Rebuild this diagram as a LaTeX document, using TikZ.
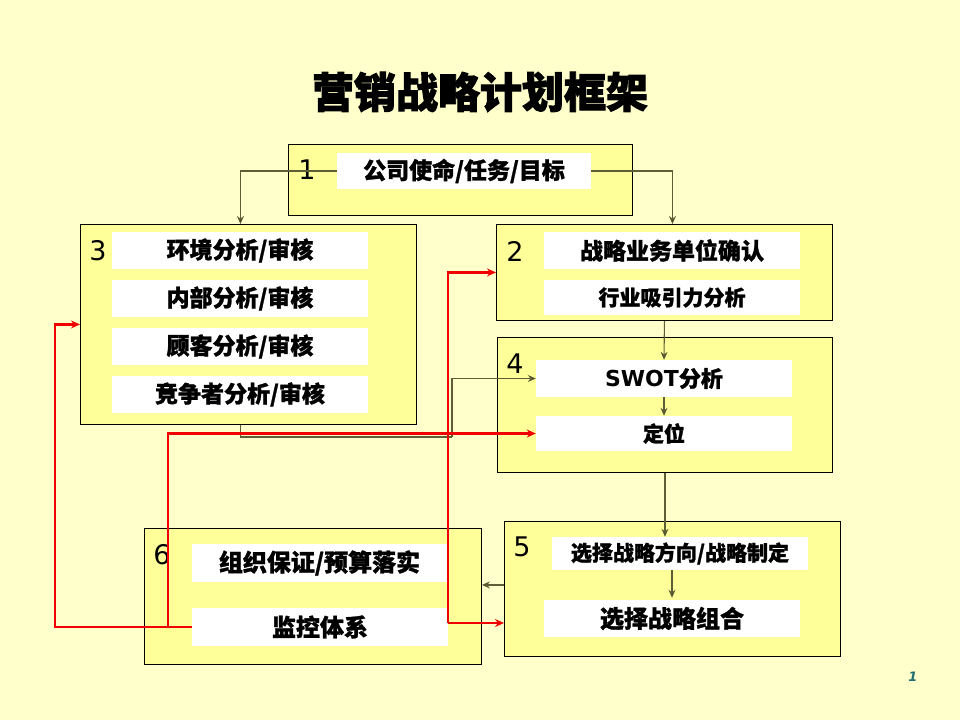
\documentclass[tikz,border=0pt]{standalone}
\usepackage{fontspec}
\newfontfamily\cjk[BoldFeatures={FakeBold=1.2}]{Noto Sans CJK SC}
\newfontfamily\cjkt[BoldFeatures={FakeBold=2.2}]{Noto Sans CJK SC}
\newfontfamily\numf{DejaVu Sans}
\usetikzlibrary{arrows.meta}
\definecolor{bgc}{HTML}{FFFFCC}
\definecolor{boxc}{HTML}{FFFF99}
\definecolor{linec}{HTML}{5E5E36}
\definecolor{redc}{HTML}{F00000}
\definecolor{pgc}{HTML}{1F6F6F}
\tikzset{
  box/.style={draw=black, line width=0.9pt, fill=boxc, anchor=north west, inner sep=0pt},
  lab/.style={fill=white, inner sep=0pt, minimum width=256pt, minimum height=37pt, font=\cjk\bfseries\fontsize{23}{27}\selectfont},
  numb/.style={font=\numf\fontsize{27}{30}\selectfont, inner sep=0pt},
  conn/.style={draw=linec, line width=1.1pt, -{Stealth[length=8pt,width=7pt,fill=black]}},
  plain/.style={draw=linec, line width=1.1pt},
  redl/.style={draw=redc, line width=2.2pt, -{Stealth[length=9pt,width=8pt]}},
  redp/.style={draw=redc, line width=2.2pt}
}
\begin{document}
\begin{tikzpicture}[x=1pt,y=-1pt]
\fill[bgc] (0,0) rectangle (960,720);
\useasboundingbox (0,0) rectangle (960,720);

\node[font=\cjkt\bfseries\fontsize{42}{50}\selectfont] (title) at (480,92) {营销战略计划框架};

% boxes
\node[box, minimum width=344pt, minimum height=71pt] (b1) at (288,144) {};
\node[box, minimum width=336pt, minimum height=200pt] (b3) at (80,224) {};
\node[box, minimum width=336pt, minimum height=96pt] (b2) at (496,224) {};
\node[box, minimum width=335pt, minimum height=135pt] (b4) at (497,337) {};
\node[box, minimum width=336pt, minimum height=135pt] (b5) at (504,521) {};
\node[box, minimum width=337pt, minimum height=136pt] (b6) at (144,528) {};

% numbers
\node[numb] (n1) at (307,170) {1};
\node[numb] (n3) at (98,251) {3};
\node[numb] (n2) at (515,251) {2};
\node[numb] (n4) at (515,364) {4};
\node[numb] (n5) at (522,547) {5};
\node[numb] (n6) at (162,555) {6};

% connectors from box 1 (drawn beneath its label)
\draw[conn] (464,171) ++(-127,0) coordinate (l1w) -| ([xshift=-8pt]b3.north);
\draw[conn] (464,171) ++(127,0) coordinate (l1e) -| ([xshift=8pt]b2.north);

% labels
\node[lab, minimum width=254pt, minimum height=36pt] (l1) at (464,171) {公司使命/任务/目标};
\node[lab] (a1) at (240,250.5) {环境分析/审核};
\node[lab] (a2) at (240,298.5) {内部分析/审核};
\node[lab] (a3) at (240,346.5) {顾客分析/审核};
\node[lab] (a4) at (240,394.5) {竞争者分析/审核};
\node[lab] (s1) at (672,250.5) {战略业务单位确认};
\node[lab, minimum height=35pt, font=\cjk\bfseries\fontsize{21}{25}\selectfont] (s2) at (672,297.5) {行业吸引力分析};
\node[lab, font=\numf\bfseries\fontsize{22}{26}\selectfont] (swot) at (664,378.5) {SWOT{\cjk\bfseries 分析}};
\node[lab, minimum height=35pt, font=\cjk\bfseries\fontsize{21}{25}\selectfont] (dw) at (664,433.5) {定位};
\node[lab, minimum height=33pt, font=\cjk\bfseries\fontsize{21}{25}\selectfont] (d5) at (680,553.5) {选择战略方向/战略制定};
\node[lab, font=\cjk\bfseries\fontsize{24}{28}\selectfont] (c5) at (672,618.5) {选择战略组合};
\node[lab, minimum height=38pt, font=\cjk\bfseries\fontsize{24}{28}\selectfont] (o6) at (319.5,563) {组织保证/预算落实};
\node[lab, minimum height=38pt, font=\cjk\bfseries\fontsize{24}{28}\selectfont] (mon) at (320,627) {监控体系};

\draw[conn] (b2.south) -- (swot.north);
\draw[conn] (swot.south) -- (dw.north);
\draw[conn] (b4.south) -- (b4.south |- d5.north);
\draw[conn] (c5.north |- d5.south) -- ([yshift=2pt]c5.north);
\draw[conn] ([yshift=4pt]b5.west) -- ([yshift=4pt]b5.west -| b6.east);
\draw[plain] ([xshift=-8pt]b3.south) |- (452,437) coordinate (k1);
\draw[conn] (k1) |- (swot.west);

% red feedback
\draw[redl] (mon.west) -| ([xshift=-25pt]b3.west) -- (b3.west);
\draw[redl] (168,627) coordinate (r1) |- (dw.west);
\draw[redl] ([yshift=4pt]mon.east) coordinate (r2) |- (b2.west);
\draw[redl] (r2) -- (r2 -| b5.west);

\node[font=\numf\bfseries\itshape\fontsize{13}{15}\selectfont, text=pgc] (pg) at (913,677) {1};
\end{tikzpicture}
\end{document}
